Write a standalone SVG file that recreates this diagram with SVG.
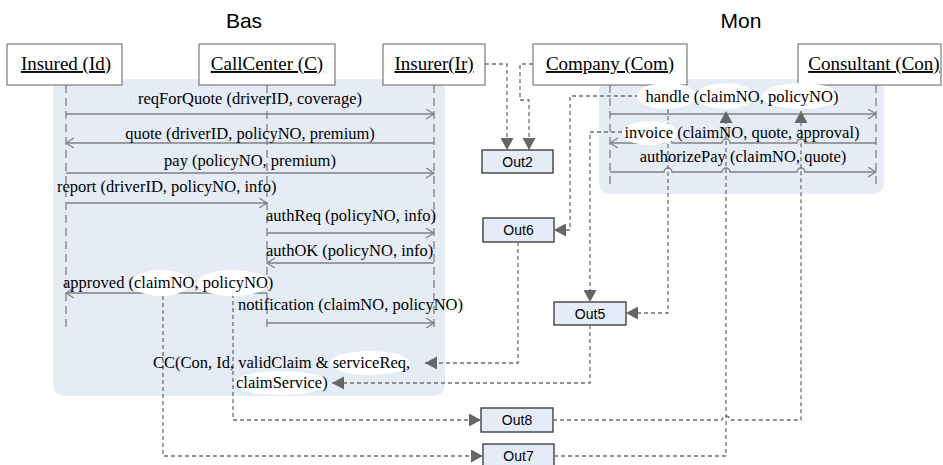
<svg xmlns="http://www.w3.org/2000/svg" width="943" height="465" viewBox="0 0 943 465">
<style>
.bg{fill:#ffffff}
.region{fill:#e6ecf6}
.actor{fill:#ffffff;stroke:#7a7a7a;stroke-width:1.2}
.alabel{font-family:"Liberation Serif",serif;font-size:19px;fill:#000;text-anchor:middle;text-decoration:underline}
.title{font-family:"Liberation Sans",Arial,sans-serif;font-size:21px;fill:#000;text-anchor:middle}
.life{stroke:#808080;stroke-width:1.3;stroke-dasharray:8 5;fill:none}
.msg{stroke:#808080;stroke-width:1.3;fill:none;marker-end:url(#open)}
.mtext{font-family:"Liberation Serif",serif;font-size:16.5px;fill:#000}
.mid{text-anchor:middle}
.conn{stroke:#6e6e6e;stroke-width:1.3;stroke-dasharray:4 3;fill:none;marker-end:url(#fill)}
.out{fill:#e6ecf7;stroke:#333;stroke-width:1.3}
.otext{font-family:"Liberation Sans",Arial,sans-serif;font-size:14px;fill:#000;text-anchor:middle}
.hl{fill:#ffffff}
</style>
<defs>
<marker id="open" markerUnits="userSpaceOnUse" markerWidth="10" markerHeight="12" refX="8" refY="5" orient="auto">
<path d="M0,0 L8,5 L0,10" fill="none" stroke="#808080" stroke-width="1.2"/>
</marker>
<marker id="fill" markerUnits="userSpaceOnUse" markerWidth="14" markerHeight="14" refX="12" refY="6.5" orient="auto">
<path d="M0,0 L12,6.5 L0,13 Z" fill="#666"/>
</marker>
</defs>
<rect class="bg" x="0" y="0" width="943" height="465"/>
<rect class="region" x="53" y="79" width="392" height="317" rx="11"/>
<rect class="region" x="599" y="79" width="285" height="115" rx="11"/>
<text class="title" x="244" y="28">Bas</text>
<text class="title" x="741" y="28">Mon</text>

<g id="insured">
<line class="life" x1="66" y1="85" x2="66" y2="330"/>
<rect class="actor" x="7" y="44" width="115" height="41"/>
<text class="alabel" x="66" y="70">Insured (Id)</text>
</g>
<g id="callcenter">
<line class="life" x1="267" y1="85" x2="267" y2="330"/>
<rect class="actor" x="199" y="44" width="136" height="41"/>
<text class="alabel" x="267" y="70">CallCenter (C)</text>
</g>
<g id="insurer">
<line class="life" x1="434" y1="85" x2="434" y2="330"/>
<rect class="actor" x="383" y="44" width="102" height="41"/>
<text class="alabel" x="434" y="70">Insurer(Ir)</text>
</g>
<g id="company">
<line class="life" x1="610" y1="85" x2="610" y2="188"/>
<rect class="actor" x="533" y="44" width="154" height="41"/>
<text class="alabel" x="610" y="70">Company (Com)</text>
</g>
<g id="consultant">
<line class="life" x1="876" y1="85" x2="876" y2="188"/>
<rect class="actor" x="798" y="44" width="143" height="41"/>
<text class="alabel" x="874" y="70">Consultant (Con)</text>
</g>

<g id="out2"><rect class="out" x="482" y="150" width="71" height="23"/><text class="otext" x="517.5" y="166.5">Out2</text></g>
<g id="out6"><rect class="out" x="483" y="218" width="71" height="24"/><text class="otext" x="518.5" y="235">Out6</text></g>
<g id="out5"><rect class="out" x="554" y="302" width="72" height="23"/><text class="otext" x="590" y="318.5">Out5</text></g>
<g id="out8"><rect class="out" x="481" y="408" width="72" height="24"/><text class="otext" x="517" y="425">Out8</text></g>
<g id="out7"><rect class="out" x="483" y="444" width="71" height="24"/><text class="otext" x="518.5" y="461">Out7</text></g>

<g id="messages">
<path class="msg" d="M66,114 H434"/>
<path class="msg" d="M434,143 H66"/>
<path class="msg" d="M66,173 H434"/>
<path class="msg" d="M66,203 H267"/>
<path class="msg" d="M267,233 H434"/>
<path class="msg" d="M434,263 H267"/>
<path class="msg" d="M267,293 H66"/>
<path class="msg" d="M267,323 H434"/>
<path class="msg" d="M610,114 H876"/>
<path class="msg" d="M876,143 H805 a4,4 0 0 0 -8,0 H730 a4,4 0 0 0 -8,0 H672 a4,4 0 0 0 -8,0 H610"/>
<path class="msg" d="M610,172 H664 a4,4 0 0 1 8,0 H722 a4,4 0 0 1 8,0 H797 a4,4 0 0 1 8,0 H876"/>
</g>

<g id="connectors">
<path class="conn" d="M485,64 H507 V150"/>
<path class="conn" d="M533,64 H520 V100 H529 V150"/>
<path class="conn" d="M639,96 H570 V230 H554"/>
<path class="conn" d="M622,132 H590 V302"/>
<path class="conn" d="M668,109 V313 H626"/>
<path class="conn" d="M553,420 H722 a4,4 0 0 1 8,0 H801 V111"/>
<path class="conn" d="M554,456 H726 V111"/>
<path class="conn" d="M518,242 V363 H425"/>
<path class="conn" d="M590,325 V383 H332"/>
<path class="conn" d="M233,294 V420 H481"/>
<path class="conn" d="M163,296 V456 H483"/>
</g>

<g id="labels">
<ellipse class="hl" cx="161" cy="283" rx="29" ry="13"/>
<ellipse class="hl" cx="233" cy="283" rx="36" ry="13"/>
<ellipse class="hl" cx="370" cy="363" rx="40" ry="12"/>
<ellipse class="hl" cx="281" cy="383" rx="47" ry="12"/>
<ellipse class="hl" cx="667" cy="96" rx="30" ry="13"/>
<ellipse class="hl" cx="725" cy="96" rx="29" ry="13"/>
<ellipse class="hl" cx="801" cy="96" rx="39" ry="13"/>
<ellipse class="hl" cx="650" cy="133" rx="28" ry="12"/>
<text class="mtext mid" x="250" y="104">reqForQuote (driverID, coverage)</text>
<text class="mtext mid" x="250" y="139">quote (driverID, policyNO, premium)</text>
<text class="mtext mid" x="250" y="166">pay (policyNO, premium)</text>
<text class="mtext" x="57" y="192">report (driverID, policyNO, info)</text>
<text class="mtext" x="266" y="221">authReq (policyNO, info)</text>
<text class="mtext" x="266" y="256">authOK (policyNO, info)</text>
<text class="mtext" x="63" y="288">approved (claimNO, policyNO)</text>
<text class="mtext" x="238" y="310">notification (claimNO, policyNO)</text>
<text class="mtext" x="153" y="368">CC(Con, Id, validClaim &amp; serviceReq,</text>
<text class="mtext" x="236" y="388">claimService)</text>
<text class="mtext mid" x="742" y="102">handle (claimNO, policyNO)</text>
<text class="mtext mid" x="742" y="138">invoice (claimNO, quote, approval)</text>
<text class="mtext mid" x="743" y="162">authorizePay (claimNO, quote)</text>
</g>
</svg>
